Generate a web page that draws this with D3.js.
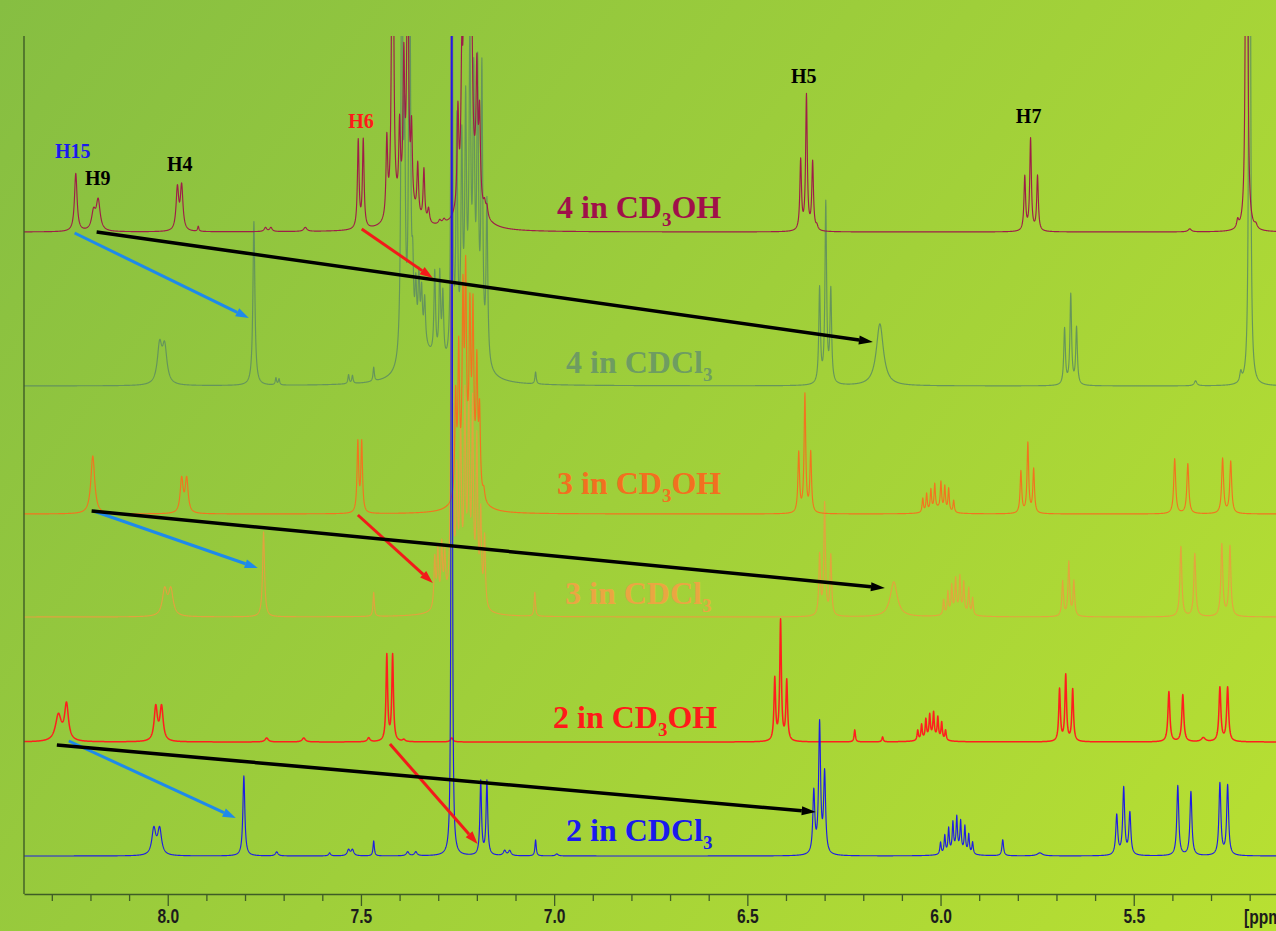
<!DOCTYPE html>
<html><head><meta charset="utf-8">
<script src="https://cdn.jsdelivr.net/npm/d3@7"></script>
<style>
html,body{margin:0;padding:0;background:#9cc93c;}
svg{display:block;}
</style></head><body>
<svg id="chart" width="1276" height="931"></svg>
<script>
// ---------------- DATA ----------------
const ppmDomain = [8.372, 5.0];
const majorTicks = [8.0, 7.5, 7.0, 6.5, 6.0, 5.5];
const tickLabels = ["8.0", "7.5", "7.0", "6.5", "6.0", "5.5"];
const minorTicks = [8.3, 8.2, 8.1, 7.9, 7.8, 7.7, 7.6, 7.4, 7.3, 7.2, 7.1, 6.9, 6.8, 6.7, 6.6,
                    6.4, 6.3, 6.2, 6.1, 5.9, 5.8, 5.7, 5.6, 5.4, 5.3, 5.2];
const unitLabel = "[ppm]";

const spectrumIds = ["4CD3OH", "4CDCl3", "3CD3OH", "3CDCl3", "2CD3OH", "2CDCl3"];
const spectrumCompound = ["4", "4", "3", "3", "2", "2"];
const spectrumSolvent = ["CD3OH", "CDCl3", "CD3OH", "CDCl3", "CD3OH", "CDCl3"];
// vertical offsets of each trace (intensity units)
const spectrumOffsets = [662, 508, 380, 277, 152, 38];

// peaks: [ppm, height, half-width(ppm)]
const peaks4CD3OH = [
  [8.238, 58, 0.004], [8.192, 18, 0.006], [8.180, 30, 0.006],
  [7.975, 42, 0.004], [7.964, 44, 0.004], [7.921, 5, 0.002],
  [7.747, 4, 0.004], [7.733, 4, 0.004], [7.644, 4, 0.005],
  [7.507, 88, 0.0025], [7.494, 88, 0.0025],
  [7.385, 22, 0.028],
  [7.433, 78, 0.0025], [7.418, 500, 0.0025], [7.400, 78, 0.0025], [7.389, 140, 0.0025],
  [7.379, 300, 0.0025], [7.369, 75, 0.0025], [7.353, 52, 0.0025], [7.337, 52, 0.0025],
  [7.325, 14, 0.003], [7.296, 4, 0.004], [7.285, 4, 0.004],
  [7.215, 52, 0.02],
  [7.249, 95, 0.0025], [7.239, 115, 0.0025], [7.231, 500, 0.0025], [7.221, 500, 0.0025],
  [7.213, 110, 0.0025], [7.200, 120, 0.0025], [7.193, 85, 0.0025], [7.180, 10, 0.003],
  [7.174, 10, 0.003],
  [6.362, 70, 0.0025], [6.347, 135, 0.0025], [6.331, 68, 0.0025], [6.320, 4, 0.003],
  [5.782, 54, 0.0025], [5.767, 92, 0.0025], [5.749, 55, 0.0025],
  [5.355, 3, 0.005],
  [5.231, 8, 0.003], [5.208, 1500, 0.0015], [5.184, 4, 0.004]
];
const peaks4CDCl3 = [
  [8.021, 38, 0.007], [8.008, 36, 0.007],
  [7.777, 164, 0.003],
  [7.720, 7, 0.002], [7.712, 6, 0.002],
  [7.532, 9, 0.002], [7.522, 8, 0.002], [7.467, 14, 0.002],
  [7.340, 32, 0.04],
  [7.394, 500, 0.0025], [7.387, 200, 0.0025], [7.374, 500, 0.0025], [7.366, 65, 0.0025],
  [7.358, 55, 0.0025], [7.350, 65, 0.0025], [7.343, 50, 0.0025], [7.335, 45, 0.0025],
  [7.309, 85, 0.0025], [7.296, 85, 0.0025], [7.288, 65, 0.0025],
  [7.265, 2000, 0.001],
  [7.215, 60, 0.02],
  [7.252, 230, 0.0025], [7.239, 200, 0.0025], [7.229, 220, 0.0025], [7.218, 270, 0.0025],
  [7.208, 230, 0.0025], [7.198, 260, 0.0025], [7.187, 280, 0.0025], [7.174, 160, 0.0025],
  [7.048, 12, 0.002],
  [6.313, 95, 0.0025], [6.297, 180, 0.0025], [6.284, 92, 0.0025],
  [6.157, 62, 0.011],
  [5.679, 56, 0.0025], [5.663, 90, 0.0025], [5.648, 57, 0.0025],
  [5.340, 5, 0.004],
  [5.223, 10, 0.003], [5.200, 1500, 0.0015]
];
const peaks3CD3OH = [
  [8.194, 58, 0.006],
  [7.964, 34, 0.0045], [7.951, 34, 0.0045],
  [7.508, 70, 0.0025], [7.498, 70, 0.0025],
  [7.220, 40, 0.02],
  [7.255, 100, 0.0025], [7.247, 140, 0.0025], [7.236, 180, 0.0025], [7.229, 190, 0.0025],
  [7.218, 150, 0.0025], [7.210, 160, 0.0025], [7.200, 120, 0.0025], [7.193, 80, 0.0025],
  [7.182, 10, 0.003],
  [6.367, 60, 0.0025], [6.351, 118, 0.0025], [6.336, 60, 0.0025],
  [6.006, 5, 0.02],
  [6.046, 14, 0.002], [6.036, 18, 0.002], [6.025, 21, 0.002], [6.015, 25, 0.002],
  [5.999, 27, 0.002], [5.989, 24, 0.002], [5.979, 23, 0.002], [5.966, 12, 0.002],
  [5.792, 42, 0.0025], [5.774, 70, 0.0025], [5.759, 44, 0.0025],
  [5.394, 55, 0.003], [5.360, 50, 0.003], [5.270, 55, 0.003], [5.249, 52, 0.003]
];
const peaks3CDCl3 = [
  [8.008, 26, 0.007], [7.992, 26, 0.007],
  [7.752, 85, 0.003],
  [7.467, 24, 0.002],
  [7.250, 20, 0.03],
  [7.309, 50, 0.0025], [7.301, 55, 0.0025], [7.291, 58, 0.0025], [7.283, 45, 0.0025],
  [7.265, 2000, 0.001],
  [7.252, 110, 0.0025], [7.242, 160, 0.0025], [7.231, 190, 0.0025], [7.221, 200, 0.0025],
  [7.211, 190, 0.0025], [7.200, 160, 0.0025], [7.190, 90, 0.0025], [7.180, 70, 0.0025],
  [7.050, 24, 0.002],
  [6.313, 60, 0.0025], [6.300, 112, 0.0025], [6.284, 60, 0.0025],
  [6.121, 35, 0.011],
  [5.955, 6, 0.02],
  [5.992, 15, 0.002], [5.981, 22, 0.002], [5.971, 27, 0.002], [5.961, 32, 0.002],
  [5.950, 34, 0.002], [5.940, 30, 0.002], [5.927, 26, 0.002], [5.917, 17, 0.002],
  [5.684, 35, 0.0025], [5.668, 54, 0.0025], [5.655, 35, 0.0025],
  [5.378, 70, 0.003], [5.342, 63, 0.003], [5.272, 72, 0.003], [5.251, 70, 0.003]
];
const peaks2CD3OH = [
  [8.283, 26, 0.009], [8.262, 36, 0.006],
  [8.031, 34, 0.005], [8.016, 34, 0.005],
  [7.744, 4, 0.005], [7.648, 4, 0.005], [7.480, 4, 0.004], [7.389, 2, 0.004],
  [7.433, 86, 0.0025], [7.418, 86, 0.0025],
  [7.265, 4, 0.004],
  [6.429, 62, 0.0025], [6.414, 120, 0.0025], [6.398, 60, 0.0025],
  [6.222, 12, 0.002], [6.150, 5, 0.002],
  [6.022, 5, 0.02],
  [6.059, 10, 0.002], [6.049, 15, 0.002], [6.038, 19, 0.002], [6.028, 22, 0.002],
  [6.018, 24, 0.002], [6.007, 21, 0.002], [5.997, 17, 0.002], [5.987, 10, 0.002],
  [5.692, 52, 0.0025], [5.676, 66, 0.0025], [5.658, 52, 0.0025],
  [5.409, 50, 0.003], [5.373, 47, 0.003], [5.320, 4, 0.006], [5.277, 54, 0.003], [5.257, 54, 0.003]
];
const peaks2CDCl3 = [
  [8.036, 26, 0.006], [8.021, 26, 0.006],
  [7.803, 80, 0.003],
  [7.718, 4, 0.004], [7.581, 3, 0.003], [7.532, 6, 0.004], [7.522, 6, 0.004],
  [7.467, 15, 0.002], [7.379, 4, 0.004], [7.358, 4, 0.004],
  [7.265, 2000, 0.001],
  [7.190, 74, 0.0025], [7.174, 74, 0.0025],
  [7.128, 5, 0.004], [7.115, 5, 0.004], [7.048, 16, 0.002], [6.993, 2, 0.004],
  [6.328, 62, 0.003], [6.313, 130, 0.003], [6.300, 80, 0.003],
  [5.958, 6, 0.02],
  [6.000, 12, 0.002], [5.989, 18, 0.002], [5.979, 24, 0.002], [5.968, 28, 0.002],
  [5.958, 32, 0.002], [5.948, 29, 0.002], [5.937, 26, 0.002], [5.927, 19, 0.002], [5.917, 12, 0.002],
  [5.839, 16, 0.0025], [5.743, 3, 0.008],
  [5.544, 40, 0.003], [5.526, 67, 0.003], [5.510, 42, 0.003],
  [5.386, 70, 0.003], [5.352, 64, 0.003], [5.277, 72, 0.003], [5.257, 70, 0.003]
];
const spectrumPeaks = [peaks4CD3OH, peaks4CDCl3, peaks3CD3OH, peaks3CDCl3, peaks2CD3OH, peaks2CDCl3];

// proton labels
const protonLabels = ["H15", "H9", "H4", "H6", "H5", "H7"];
const protonLabelPpm = [8.246, 8.181, 7.969, 7.500, 6.354, 5.772];
const protonLabelLevel = [736, 709, 723, 766, 811, 771];

// shift arrows: [ppmFrom, intensityFrom, ppmTo, intensityTo]
const arrowsH9 = [[8.184, 662, 6.175, 552], [8.197, 383, 6.144, 306], [8.287, 149, 6.323, 82]];
const arrowsH15 = [[8.241, 661, 7.790, 576], [8.192, 383, 7.767, 326], [8.256, 153, 7.824, 76]];
const arrowsH6 = [[7.498, 665, 7.314, 616], [7.508, 379, 7.314, 311], [7.425, 150, 7.198, 50]];

// ---------------- STYLE / LAYOUT ----------------
const W = 1276, H = 931;
const plot = {left: 24, top: 36, bottom: 894, right: W};
const pxPerPpm = 386.4;
const traceColors = ["#9E1E48", "#5F8E5F", "#F2741F", "#E99E3E", "#FF1E1E", "#1E1EE2"];
const labelColors = ["#A0104A", "#6A9866", "#F27020", "#F2A244", "#FF1A1A", "#1A1AEE"];
const labelPos = [[557, 218], [566, 373], [557, 494], [565, 604], [553, 728], [566, 841]];
const protonColors = ["#1A1AEE", "#000", "#000", "#FF1A1A", "#000", "#000"];
const narrowFont = "'Liberation Sans','Arial',sans-serif";

const svg = d3.select("#chart");
const defs = svg.append("defs");
const grad = defs.append("linearGradient").attr("id", "bg")
  .attr("gradientUnits", "userSpaceOnUse").attr("x1", 0).attr("y1", 0).attr("x2", W).attr("y2", H);
grad.append("stop").attr("offset", 0).attr("stop-color", "#86BE42");
grad.append("stop").attr("offset", 1).attr("stop-color", "#B8E032");
svg.append("rect").attr("width", W).attr("height", H).attr("fill", "url(#bg)");

defs.append("clipPath").attr("id", "clip").append("rect")
  .attr("x", plot.left).attr("y", plot.top).attr("width", plot.right - plot.left).attr("height", plot.bottom - plot.top);

const x = d3.scaleLinear().domain(ppmDomain)
  .range([plot.left, plot.left + (ppmDomain[0] - ppmDomain[1]) * pxPerPpm]);
const y = d3.scaleLinear().domain([0, plot.bottom - plot.top]).range([plot.bottom, plot.top]);

function trace(peaks) {
  const pts = [];
  const step = 0.0005;
  const n = Math.round((ppmDomain[0] - ppmDomain[1]) / step);
  for (let i = 0; i <= n; i++) {
    const p = ppmDomain[0] - i * step;
    let s = 0;
    for (const [c, h, w] of peaks) { const d = p - c; s += h * w * w / (d * d + w * w); }
    pts.push([p, Math.min(s, 3000)]);
  }
  return pts;
}

const gSpec = svg.append("g").attr("clip-path", "url(#clip)");
const drawOrder = [1, 3, 2, 0, 4, 5];
drawOrder.forEach(i => {
  const off = spectrumOffsets[i];
  const line = d3.line().x(d => x(d[0])).y(d => y(off + d[1]));
  gSpec.append("path").datum(trace(spectrumPeaks[i]))
    .attr("d", line).attr("fill", "none")
    .attr("stroke", traceColors[i])
    .attr("stroke-width", i === 4 ? 1.5 : 1.15)
    .attr("stroke-opacity", (i === 1 || i === 3) ? 0.9 : 1)
    .attr("stroke-linejoin", "round");
});

// axes
const axisColor = "#3E5C26";
svg.append("line").attr("x1", plot.left).attr("x2", plot.left).attr("y1", plot.top).attr("y2", plot.bottom)
  .attr("stroke", axisColor).attr("stroke-width", 1.4);
const gMinor = svg.append("g").attr("transform", `translate(0,${plot.bottom})`)
  .call(d3.axisBottom(x).tickValues(minorTicks).tickSize(7).tickSizeOuter(0).tickFormat(""));
const gMajor = svg.append("g").attr("transform", `translate(0,${plot.bottom})`)
  .call(d3.axisBottom(x).tickValues(majorTicks).tickSize(12).tickSizeOuter(0)
    .tickFormat((d, i) => tickLabels[i]));
gMajor.select(".domain").remove();
[gMinor, gMajor].forEach(g => {
  g.selectAll(".domain").attr("stroke", axisColor).attr("stroke-width", 1.4);
  g.selectAll(".tick line").attr("stroke", axisColor).attr("stroke-width", 1.3);
});
gMajor.selectAll(".tick text")
  .attr("font-family", narrowFont)
  .attr("font-weight", "bold").attr("font-size", 20).attr("fill", "#1c1c1c")
  .attr("y", 15).attr("transform", "scale(0.78,1)");
svg.append("text").text(unitLabel)
  .attr("transform", "translate(1244,924) scale(0.78,1)")
  .attr("font-family", narrowFont)
  .attr("font-weight", "bold").attr("font-size", 20).attr("fill", "#1c1c1c");

// arrows
function drawArrows(list, color, width, headLen, headW) {
  const g = svg.append("g");
  list.forEach(a => {
    const x1 = x(a[0]), y1 = y(a[1]), x2 = x(a[2]), y2 = y(a[3]);
    const ang = Math.atan2(y2 - y1, x2 - x1);
    const bx = x2 - headLen * Math.cos(ang), by = y2 - headLen * Math.sin(ang);
    g.append("line").attr("x1", x1).attr("y1", y1).attr("x2", bx).attr("y2", by)
      .attr("stroke", color).attr("stroke-width", width);
    const px = -Math.sin(ang) * headW / 2, py = Math.cos(ang) * headW / 2;
    g.append("path").attr("d", `M${x2},${y2}L${bx + px},${by + py}L${bx - px},${by - py}Z`)
      .attr("fill", color);
  });
}
drawArrows(arrowsH15, "#1E8AEB", 3, 13, 9);
drawArrows(arrowsH6, "#F21A1A", 3, 13, 9);
drawArrows(arrowsH9, "#000000", 3.5, 14, 9);

// spectrum labels
const serif = "'Liberation Serif','Times New Roman',serif";
spectrumIds.forEach((id, i) => {
  const t = svg.append("text").attr("x", labelPos[i][0]).attr("y", labelPos[i][1])
    .attr("font-family", serif).attr("font-weight", "bold").attr("font-size", 32)
    .attr("fill", labelColors[i]).attr("fill-opacity", (i === 1 || i === 3) ? 0.92 : 1);
  const solv = spectrumSolvent[i];
  const m = solv.match(/^(.*?)(3)(.*)$/);
  t.append("tspan").text(spectrumCompound[i] + " in " + m[1]);
  t.append("tspan").text(m[2]).attr("font-size", 19).attr("dy", 8);
  if (m[3]) t.append("tspan").text(m[3]).attr("dy", -8);
});

// proton labels
protonLabels.forEach((lab, i) => {
  svg.append("text").text(lab).attr("x", x(protonLabelPpm[i])).attr("y", y(protonLabelLevel[i]))
    .attr("text-anchor", "middle").attr("font-family", serif).attr("font-weight", "bold")
    .attr("font-size", 20).attr("fill", protonColors[i]);
});
</script>
</body></html>
